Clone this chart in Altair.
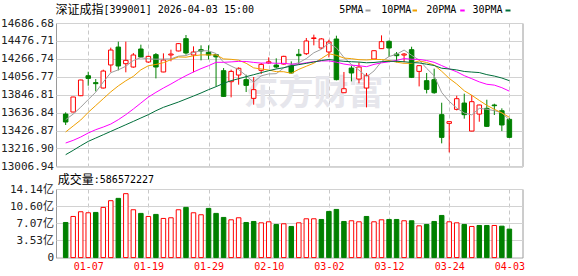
import json
import altair as alt
import pandas as pd

# ---------------- data ----------------
dates = ["12-31",
         "01-05", "01-06", "01-07", "01-08", "01-09",
         "01-12", "01-13", "01-14", "01-15", "01-16",
         "01-19", "01-20", "01-21", "01-22", "01-23",
         "01-26", "01-27", "01-28", "01-29", "01-30",
         "02-02", "02-03", "02-04", "02-05", "02-06",
         "02-09", "02-10", "02-11", "02-12", "02-13",
         "02-24", "02-25", "02-26", "02-27",
         "03-02", "03-03", "03-04", "03-05", "03-06",
         "03-09", "03-10", "03-11", "03-12", "03-13",
         "03-16", "03-17", "03-18", "03-19", "03-20",
         "03-23", "03-24", "03-25", "03-26", "03-27",
         "03-30", "03-31", "04-01", "04-02", "04-03"]

opens = [13620, 13644, 13835, 14069, 13988, 13925, 14195, 14405, 14210, 14171,
         14382, 14230, 14316, 14113, 14312, 14359, 14503, 14312, 14374, 14343,
         14316, 14128, 13999, 14077, 14023, 13804, 14132, 14218, 14194, 14206,
         14187, 14320, 14327, 14505, 14394, 14347, 14499, 13870, 14159, 14030,
         13925, 14265, 14386, 14472, 14323, 14311, 14374, 14120, 14011, 14023,
         13613, 13511, 13675, 13749, 13421, 13620, 13687, 13726, 13659, 13558]
highs = [13640, 13822, 14022, 14116, 14030, 14140, 14398, 14468, 14468, 14335,
         14433, 14303, 14335, 14331, 14374, 14452, 14546, 14413, 14425, 14425,
         14320, 14159, 14140, 14167, 14081, 14054, 14218, 14284, 14273, 14303,
         14237, 14382, 14511, 14550, 14510, 14491, 14538, 14113, 14187, 14226,
         14101, 14366, 14542, 14483, 14347, 14335, 14409, 14190, 14101, 14152,
         13753, 13535, 13835, 13859, 13843, 13730, 13788, 13741, 13687, 13573]
lows = [13492, 13640, 13830, 13952, 13886, 13920, 14109, 14132, 14109, 14163,
        14280, 14220, 14038, 14110, 14238, 14355, 14316, 14109, 14249, 14260,
        13945, 13820, 13816, 13964, 13878, 13730, 14089, 14210, 14155, 14200,
        14093, 14206, 14312, 14425, 14382, 14284, 14015, 13866, 14003, 13980,
        13698, 14260, 14382, 14288, 14226, 14226, 14042, 13944, 13862, 13858,
        13277, 13171, 13663, 13566, 13418, 13530, 13470, 13609, 13421, 13340]
closes = [13527, 13820, 14019, 14038, 13976, 14124, 14370, 14183, 14249, 14312,
          14288, 14296, 14171, 14253, 14323, 14445, 14335, 14347, 14359, 14312,
          14290, 13827, 14120, 14156, 13956, 13906, 14202, 14232, 14171, 14296,
          14101, 14304, 14476, 14512, 14500, 14464, 14023, 13917, 14101, 14171,
          14073, 14362, 14468, 14394, 14304, 14323, 14050, 14187, 13909, 13870,
          13347, 13531, 13800, 13613, 13765, 13726, 13476, 13718, 13492, 13347]

ma5 = [13554, 13620, 13700, 13790, 13876, 13995, 14105, 14138, 14180, 14248,
       14280, 14266, 14263, 14264, 14266, 14298, 14305, 14341, 14362, 14360,
       14329, 14227, 14182, 14141, 14070, 13993, 14068, 14090, 14093, 14161,
       14200, 14221, 14270, 14338, 14379, 14451, 14395, 14283, 14201, 14135,
       14057, 14125, 14235, 14294, 14320, 14370, 14308, 14252, 14155, 14068,
       13873, 13769, 13691, 13632, 13611, 13687, 13676, 13660, 13635, 13552]
ma10 = [13410, 13480, 13550, 13640, 13720, 13800, 13880, 13950, 14010, 14062,
        14138, 14186, 14201, 14222, 14257, 14289, 14286, 14302, 14313, 14313,
        14313, 14266, 14261, 14251, 14215, 14161, 14148, 14136, 14117, 14116,
        14097, 14144, 14180, 14216, 14270, 14326, 14308, 14276, 14269, 14257,
        14254, 14260, 14259, 14247, 14228, 14214, 14216, 14243, 14224, 14194,
        14121, 14038, 13972, 13893, 13840, 13780, 13722, 13676, 13634, 13582]
ma20 = [13281, 13312, 13351, 13398, 13437, 13468, 13503, 13554, 13613, 13679,
        13749, 13819, 13874, 13925, 13972, 14023, 14070, 14113, 14152, 14187,
        14226, 14226, 14231, 14237, 14236, 14225, 14217, 14219, 14215, 14214,
        14205, 14205, 14221, 14234, 14242, 14243, 14228, 14206, 14193, 14186,
        14175, 14202, 14220, 14232, 14249, 14270, 14262, 14260, 14247, 14226,
        14188, 14149, 14115, 14070, 14034, 13997, 13969, 13959, 13929, 13888]
ma30 = [13144, 13195, 13249, 13300, 13339, 13378, 13417, 13456, 13495, 13534,
        13574, 13613, 13659, 13699, 13730, 13761, 13796, 13831, 13867, 13906,
        13941, 13980, 14011, 14034, 14058, 14081, 14105, 14128, 14148, 14163,
        14183, 14199, 14214, 14230, 14247, 14259, 14247, 14238, 14233, 14229,
        14221, 14224, 14233, 14238, 14238, 14233, 14224, 14219, 14204, 14189,
        14157, 14148, 14137, 14119, 14112, 14106, 14082, 14065, 14042, 14011]

# volume in 亿 (1e8); 1 = up day (red), 0 = down day (green)
volumes = [7.24, 8.48, 9.45, 9.24, 9.31, 10.35, 11.73, 12.21, 13.18, 9.86,
           9.11, 8.48, 8.90, 8.07, 8.21, 9.86, 10.35, 9.24, 8.83, 10.14,
           9.11, 8.28, 7.79, 8.21, 7.24, 7.45, 7.17, 7.38, 6.83, 6.97,
           6.42, 7.17, 8.00, 8.00, 7.86, 9.52, 9.93, 7.45, 7.59, 7.38,
           8.48, 7.38, 7.79, 7.86, 7.86, 7.59, 7.59, 6.55, 6.83, 7.45,
           8.69, 7.38, 7.17, 6.83, 6.42, 6.62, 6.62, 6.62, 6.48, 5.87]
vol_up = [0, 1, 1, 1, 0, 1, 1, 0, 1, 1,
          0, 1, 0, 1, 1, 1, 0, 1, 1, 0,
          0, 0, 1, 1, 0, 0, 1, 1, 0, 1,
          0, 1, 1, 1, 0, 0, 0, 0, 1, 1,
          0, 1, 1, 0, 0, 1, 0, 1, 0, 0,
          0, 1, 1, 0, 1, 0, 0, 1, 0, 0]

price_ticks = [13006.94, 13216.90, 13426.87, 13636.84, 13846.81,
               14056.77, 14266.74, 14476.71, 14686.68]
vol_ticks = [0, 3.53, 7.07, 10.60, 14.14]
date_ticks = ["01-07", "01-19", "01-29", "02-10", "03-02", "03-12", "03-24", "04-03"]

title_cn = "深证成指"
title_rest = "[399001] 2026-04-03 15:00"
vol_cn = "成交量"
vol_rest = ":586572227"
watermark = "东方财富"
ma_names = ["5PMA", "10PMA", "20PMA", "30PMA"]
ma_colors = ["#9e9e9e", "#f0a000", "#ff00ff", "#006e3a"]

RED = "#ff0000"
GREEN = "#008000"
MONO = "DejaVu Sans Mono, Noto Sans CJK SC"
CJK = "Noto Sans CJK SC"

# ---------------- tables ----------------
n = len(dates)
df = pd.DataFrame({
    "idx": list(range(n)), "date": dates, "open": opens, "high": highs,
    "low": lows, "close": closes, "vol": volumes,
})
df["cdir"] = ["up" if c >= o else "down" for o, c in zip(opens, closes)]
df["vdir"] = ["up" if u else "down" for u in vol_up]

ma_df = pd.concat([
    pd.DataFrame({"idx": list(range(n)), "ma": name, "value": vals})
    for name, vals in zip(ma_names, [ma5, ma10, ma20, ma30])
])

tick_idx = [dates.index(d) for d in date_ticks]

W = 466.5
H_MAIN = 143.4
H_VOL = 68.6

xscale = alt.Scale(domain=[-0.62, 60.08], nice=False, zero=False)
pscale = alt.Scale(domain=[price_ticks[0], price_ticks[-1]], nice=False, zero=False)
vscale = alt.Scale(domain=[0, vol_ticks[-1]], nice=False, zero=False)

fill_scale = alt.Scale(domain=["up", "down"], range=["#ffffff", GREEN])
stroke_scale = alt.Scale(domain=["up", "down"], range=[RED, GREEN])

x_main = alt.X("idx:Q", scale=xscale, title=None,
               axis=alt.Axis(values=tick_idx, labels=False, ticks=False, domain=False,
                             grid=True, gridDash=[4, 3], gridColor="#c8c8c8"))
y_price_axis = alt.Axis(values=price_ticks, format=".2f", title=None, ticks=False,
                        domain=False, grid=True, gridColor="#d2d2d2", labelFont=MONO,
                        labelFontSize=11, labelColor="#222222", labelPadding=2.5,
                        labelOverlap=False)

base = alt.Chart(df)


def txt(s, x, y, font, size, color="#000000"):
    return alt.Chart(pd.DataFrame({"t": [s]})).mark_text(
        font=font, fontSize=size, color=color, align="left", baseline="middle"
    ).encode(text="t:N", x=alt.value(x), y=alt.value(y))


wm = alt.Chart(pd.DataFrame({"t": [watermark]})).mark_text(
    font=CJK, fontSize=35, fontWeight="bold", color="#e6e6ec",
    align="center", baseline="middle"
).encode(text="t:N", x=alt.value(257.5), y=alt.value(71))

wicks = base.mark_rule(strokeWidth=1).encode(
    x=x_main,
    y=alt.Y("low:Q", scale=pscale, axis=y_price_axis),
    y2="high:Q",
    stroke=alt.Stroke("cdir:N", scale=stroke_scale, legend=None),
)
bodies = base.mark_bar(size=4.5, strokeWidth=1).encode(
    x=x_main,
    y=alt.Y("open:Q", scale=pscale, axis=y_price_axis),
    y2="close:Q",
    fill=alt.Fill("cdir:N", scale=fill_scale, legend=None),
    stroke=alt.Stroke("cdir:N", scale=stroke_scale, legend=None),
)
lines = alt.Chart(ma_df).mark_line(strokeWidth=1).encode(
    x=x_main,
    y=alt.Y("value:Q", scale=pscale, axis=y_price_axis),
    color=alt.Color("ma:N", scale=alt.Scale(domain=ma_names, range=ma_colors), legend=None),
    order="idx:Q",
)

title_layers = [txt(title_cn, -0.5, -13, CJK, 12), txt(title_rest, 47.5, -13, MONO, 10)]

legend_layers = []
text_x = [283.2, 325.2, 370.2, 416.5]
dash_x = [(309.5, 314.5), (356.5, 361), (404.2, 408.7), (449.5, 454.5)]
for name, col, tx, (d0, d1) in zip(ma_names, ma_colors, text_x, dash_x):
    legend_layers.append(txt(name, tx, -13, MONO, 10))
    legend_layers.append(
        alt.Chart(pd.DataFrame({"t": [name]})).mark_rule(color=col, strokeWidth=2).encode(
            x=alt.value(d0), x2=alt.value(d1), y=alt.value(-12.5)
        )
    )

main = alt.layer(wm, wicks, bodies, lines, *title_layers, *legend_layers).properties(
    width=W, height=H_MAIN
)

# ---------------- volume panel ----------------
x_vol = alt.X("idx:Q", scale=xscale, title=None,
              axis=alt.Axis(values=tick_idx, ticks=False, domain=False, grid=True,
                            gridDash=[4, 3], gridColor="#c8c8c8",
                            labelExpr=json.dumps(dates) + "[datum.value]",
                            labelColor=RED, labelFont=MONO, labelFontSize=10,
                            labelPadding=4, labelOverlap=False, labelFlush=False))
y_vol_axis = alt.Axis(values=vol_ticks, title=None, ticks=False, domain=False, grid=True,
                      gridColor="#d2d2d2", labelFont=MONO, labelFontSize=11,
                      labelColor="#222222", labelPadding=2.5, labelOverlap=False,
                      labelExpr="datum.value == 0 ? '0' : format(datum.value, '.2f') + '亿'")

vbars = base.mark_bar(size=4.5, strokeWidth=1).encode(
    x=x_vol,
    y=alt.Y("vol:Q", scale=vscale, axis=y_vol_axis),
    fill=alt.Fill("vdir:N", scale=fill_scale, legend=None),
    stroke=alt.Stroke("vdir:N", scale=stroke_scale, legend=None),
)
vlabels = [txt(vol_cn, 1.8, -9, CJK, 12), txt(vol_rest, 37.8, -9, MONO, 10)]

vol = alt.layer(vbars, *vlabels).properties(width=W, height=H_VOL)

chart = alt.vconcat(main, vol, spacing=22, bounds="flush").properties(
    padding={"left": 0, "top": 3, "right": 6, "bottom": 4},
    background="#ffffff",
).configure_view(stroke="#9a9a9a", strokeWidth=1)

chart.save("out.html", embed_options={"renderer": "svg", "actions": False})
